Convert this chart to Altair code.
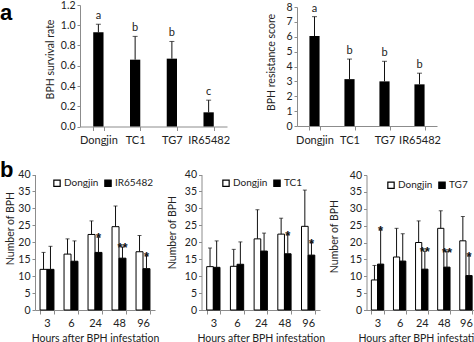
import altair as alt
import pandas as pd

FONT = "Lato"
TXT = "#222222"
AX = "#8c8c8c"
W, H = 474, 342

# ---------------- data ----------------
a_cats = ["Dongjin", "TC1", "TG7", "IR65482"]
a_surv = [0.93, 0.66, 0.67, 0.14]
a_surv_err = [0.08, 0.23, 0.17, 0.12]
a_surv_sig = ["a", "b", "b", "c"]
a_res = [6.05, 3.15, 3.0, 2.8]
a_res_err = [1.3, 1.35, 1.35, 0.75]
a_res_sig = ["a", "b", "b", "b"]

hours = ["3", "6", "24", "48", "96"]
b1_names = ["Dongjin", "IR65482"]
b1_ctrl = [12.0, 16.5, 22.3, 24.6, 17.2]
b1_ctrl_err = [5.0, 4.5, 4.0, 6.1, 4.8]
b1_test = [12.0, 14.4, 17.0, 15.3, 12.2]
b1_test_err = [6.8, 6.0, 4.5, 3.3, 3.8]
b1_sig = ["", "", "*", "**", "*"]

b2_names = ["Dongjin", "TC1"]
b2_ctrl = [12.8, 12.9, 21.0, 22.4, 24.7]
b2_ctrl_err = [5.5, 5.0, 8.6, 4.7, 10.7]
b2_test = [12.6, 13.5, 17.4, 16.6, 16.2]
b2_test_err = [7.8, 6.6, 5.3, 5.6, 3.7]
b2_sig = ["", "", "", "*", "*"]

b3_names = ["Dongjin", "TG7"]
b3_ctrl = [8.9, 15.7, 20.0, 24.2, 20.5]
b3_ctrl_err = [4.3, 8.5, 6.4, 5.2, 7.2]
b3_test = [13.6, 14.5, 12.1, 12.7, 10.2]
b3_test_err = [10.1, 8.1, 5.3, 4.6, 5.8]
b3_sig = ["*", "", "**", "**", "*"]


def panel_a(vals, errs, sigs, ymax, yvals, fmt, ytitle, xr, yr, pad, title_pad, title_y):
    df = pd.DataFrame({"cat": a_cats, "val": vals,
                       "upper": [v + e for v, e in zip(vals, errs)], "sig": sigs})
    xs = alt.Scale(domain=a_cats, range=xr, paddingInner=pad, paddingOuter=pad / 2)
    xa = alt.Axis(orient="bottom", offset=yr[0] - H, title=None, labelAngle=0,
                  tickBand="extent", tickSize=4, labelPadding=4, labelFontSize=11)
    ys = alt.Scale(domain=[0, ymax], range=yr, nice=False, zero=True)
    ya = alt.Axis(orient="left", offset=-xr[0], values=yvals, format=fmt, title=ytitle,
                  tickSize=3, labelPadding=2, titlePadding=title_pad, titleY=title_y)
    X = alt.X("cat:N", scale=xs, axis=xa, sort=a_cats)

    def Y(f):
        return alt.Y(f, type="quantitative", scale=ys, axis=ya)

    base = alt.Chart(df)
    bars = base.mark_bar(color="black").encode(x=X, y=Y("val"))
    rule = base.mark_rule(color="#111", strokeWidth=1).encode(x=X, y=Y("val"), y2="upper:Q")
    cap = base.mark_tick(orient="horizontal", size=5, thickness=1, color="#111").encode(x=X, y=Y("upper"))
    txt = base.mark_text(dy=-5, baseline="alphabetic", font=FONT, fontSize=11, color=TXT).encode(
        x=X, y=Y("upper"), text="sig:N")
    return alt.layer(bars, rule, cap, txt)


def panel_b(names, ctrl, ctrl_err, test, test_err, sigs, xr, yr, pad, title_pad, title_y, lx, ly):
    rows = []
    for i, h in enumerate(hours):
        rows.append({"h": h, "g": names[0], "val": ctrl[i], "upper": ctrl[i] + ctrl_err[i], "sig": ""})
        rows.append({"h": h, "g": names[1], "val": test[i], "upper": test[i] + test_err[i], "sig": sigs[i]})
    df = pd.DataFrame(rows)
    xs = alt.Scale(domain=hours, range=xr, paddingInner=pad, paddingOuter=pad / 2)
    xa = alt.Axis(orient="bottom", offset=yr[0] - H, title="Hours after BPH infestation",
                  labelAngle=0, tickBand="extent", tickSize=4, labelPadding=3, titlePadding=5,
                  labelFontSize=11)
    ys = alt.Scale(domain=[0, 40], range=yr, nice=False, zero=True)
    ya = alt.Axis(orient="left", offset=-xr[0], values=list(range(0, 45, 5)), title="Number of BPH",
                  tickSize=3, labelPadding=2, titlePadding=title_pad, titleY=title_y)
    X = alt.X("h:N", scale=xs, axis=xa, sort=hours)
    XO = alt.XOffset("g:N", scale=alt.Scale(domain=names), sort=names)

    def Y(f):
        return alt.Y(f, type="quantitative", scale=ys, axis=ya)

    base = alt.Chart(df)
    bars = base.mark_bar(stroke="black", strokeWidth=1).encode(
        x=X, xOffset=XO, y=Y("val"),
        fill=alt.Fill("g:N", scale=alt.Scale(domain=names, range=["white", "black"]), sort=names,
                      legend=alt.Legend(orient="none", legendX=lx, legendY=ly, direction="horizontal",
                                        title=None, symbolType="square", symbolSize=40,
                                        symbolStrokeColor="black", symbolStrokeWidth=1.2,
                                        labelFont=FONT, labelFontSize=10, labelColor=TXT,
                                        labelOffset=2, columnPadding=3)))
    rule = base.mark_rule(color="#111", strokeWidth=1).encode(x=X, xOffset=XO, y=Y("val"), y2="upper:Q")
    cap = base.mark_tick(orient="horizontal", size=4, thickness=1, color="#111").encode(
        x=X, xOffset=XO, y=Y("upper"))
    txt = base.mark_text(dy=5, baseline="alphabetic", font="Liberation Sans", fontSize=13,
                         fontWeight="bold", color="#111").encode(
        x=X, xOffset=XO, y=Y("upper"), text="sig:N")
    return alt.layer(bars, rule, cap, txt)


pa1 = panel_a(a_surv, a_surv_err, a_surv_sig, 1.2, [0, 0.2, 0.4, 0.6, 0.8, 1.0, 1.2], ".1f",
              "BPH survival rate", [80, 227], [126.5, 5], 0.72, 5, 59)
pa2 = panel_a(a_res, a_res_err, a_res_sig, 8, list(range(0, 9)), "d",
              "BPH resistance score", [297, 437], [126, 7], 0.71, 9, 62)
pb1 = panel_b(b1_names, b1_ctrl, b1_ctrl_err, b1_test, b1_test_err, b1_sig,
              [35, 155], [310, 174.5], 0.42, 2, 228, 52, 178)
pb2 = panel_b(b2_names, b2_ctrl, b2_ctrl_err, b2_test, b2_test_err, b2_sig,
              [201.5, 320], [310, 174.5], 0.44, 7, 232, 221, 178)
pb3 = panel_b(b3_names, b3_ctrl, b3_ctrl_err, b3_test, b3_test_err, b3_sig,
              [366.5, 477], [310, 175], 0.44, 10, 236, 386, 180)

panel_letters = ["a", "b"]
lab_a = alt.Chart(pd.DataFrame({"t": [panel_letters[0]]})).mark_text(
    font="Liberation Sans", fontSize=22, fontWeight="bold", color="black", align="left",
    baseline="alphabetic").encode(text="t:N", x=alt.value(0), y=alt.value(20))
lab_b = alt.Chart(pd.DataFrame({"t": [panel_letters[1]]})).mark_text(
    font="Liberation Sans", fontSize=22, fontWeight="bold", color="black", align="left",
    baseline="alphabetic").encode(text="t:N", x=alt.value(0), y=alt.value(177))

chart = alt.layer(pa1, pa2, pb1, pb2, pb3, lab_a, lab_b).resolve_scale(
    x="independent", y="independent", xOffset="independent", fill="independent"
).resolve_axis(x="independent", y="independent").resolve_legend(fill="independent").properties(
    width=W, height=H, padding=0, autosize=alt.AutoSizeParams(type="none"),
    background="white"
).configure_view(stroke=None).configure_axis(
    grid=False, domainColor=AX, tickColor=AX, labelColor=TXT, titleColor=TXT,
    labelFont=FONT, titleFont=FONT, labelFontSize=10.5, titleFontSize=10.5, titleFontWeight="normal",
    domainWidth=1, tickWidth=1
)

chart.save("out.html", embed_options={"renderer": "svg", "actions": False})
